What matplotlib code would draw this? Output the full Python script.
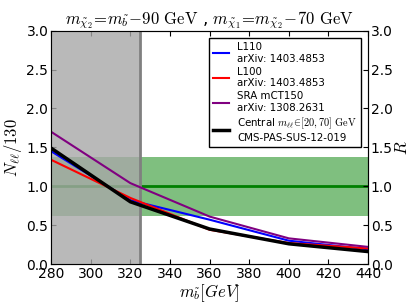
import numpy as np
import matplotlib
matplotlib.use('Agg')
import matplotlib.pyplot as plt

plt.rcParams['mathtext.fontset'] = 'cm'
plt.rcParams['xtick.direction'] = 'in'
plt.rcParams['ytick.direction'] = 'in'

mass = [280, 320, 360, 400, 440]
l110 = [1.45, 0.82, 0.57, 0.30, 0.19]
l100 = [1.34, 0.85, 0.44, 0.27, 0.20]
sra = [1.70, 1.04, 0.61, 0.33, 0.22]
central = [1.49, 0.80, 0.45, 0.26, 0.16]

band_lo, band_hi = 0.62, 1.37
excl = 325

fig = plt.figure(figsize=(4.09, 3.07), dpi=100)
ax = fig.add_axes([0.125, 0.14, 0.775, 0.76])

ax.axhspan(band_lo, band_hi, color='green', alpha=0.5, lw=0, zorder=1)
ax.axhline(1.0, color='green', lw=2, zorder=2)
ax.axvspan(280, excl, color='#a8a8a8', alpha=0.8, lw=0, zorder=3)
ax.axvline(excl, color='gray', lw=2, zorder=3)

ax.plot(mass, l110, color='blue', lw=1.5, label='L110\narXiv: 1403.4853', zorder=4)
ax.plot(mass, l100, color='red', lw=1.5, label='L100\narXiv: 1403.4853', zorder=4)
ax.plot(mass, sra, color='purple', lw=1.5, label='SRA mCT150\narXiv: 1308.2631', zorder=4)
ax.plot(mass, central, color='black', lw=2.5,
        label='Central $m_{\\ell\\ell}\\!\\in\\![20,70]$ $\\mathrm{GeV}$\nCMS-PAS-SUS-12-019', zorder=5)

ax.set_xlim(280, 440)
ax.set_ylim(0, 3)
ax.set_xticks(np.arange(280, 441, 20))
ax.set_yticks(np.arange(0, 3.01, 0.5))
ax.tick_params(top=True, labelsize=10, pad=2)
for s in ax.spines.values():
    s.set_color('#555555')
ax.set_xlabel('$m_{\\tilde{b}}[GeV]$', fontsize=12, labelpad=1)
ax.set_ylabel('$N_{\\ell\\ell}/130$', fontsize=12, labelpad=2)
ax.set_title('$m_{\\tilde{\\chi}_2}\\!=\\!m_{\\tilde{b}}\\!-\\!90$ $\\mathrm{GeV}$ , '
             '$m_{\\tilde{\\chi}_1}\\!=\\!m_{\\tilde{\\chi}_2}\\!-\\!70$ $\\mathrm{GeV}$',
             fontsize=12, pad=3)

ax2 = ax.twinx()
ax2.set_ylim(0, 3)
ax2.set_yticks(np.arange(0, 3.01, 0.5))
ax2.tick_params(labelsize=10, direction='in', pad=2)
ax2.set_ylabel('$R$', fontsize=12, labelpad=0)

leg = ax.legend(loc='upper right', fontsize=7.4, handlelength=1.5, labelspacing=0.3,
                fancybox=False, framealpha=1, edgecolor='black', borderaxespad=0.7)
leg.set_zorder(10)

fig.savefig('out.png', dpi=100)
